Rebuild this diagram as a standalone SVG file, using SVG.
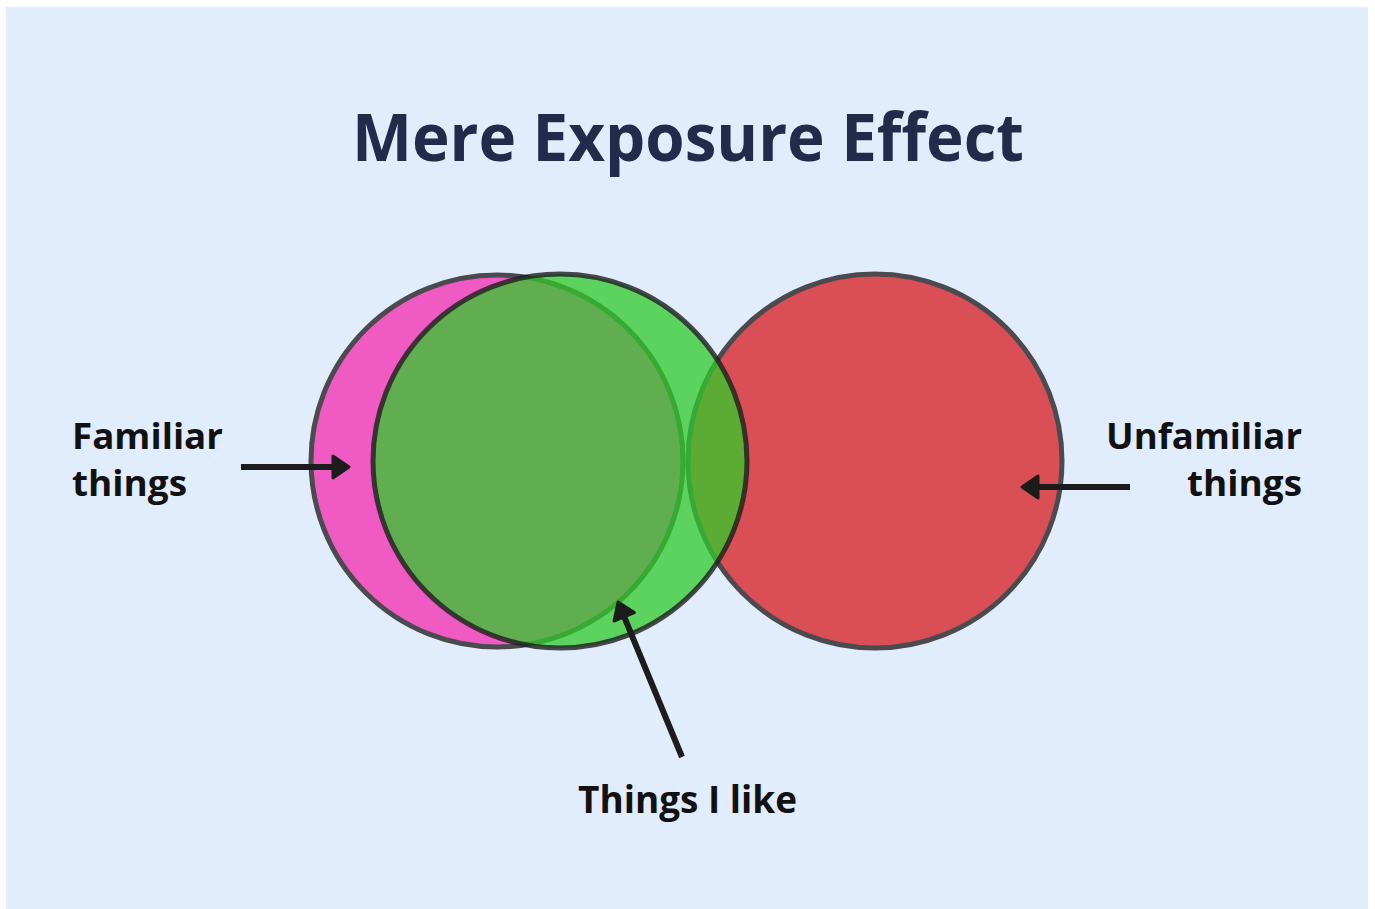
<svg xmlns="http://www.w3.org/2000/svg" width="1375" height="909" viewBox="0 0 1375 909">
  <style>
    .title { font-family: "Open Sans", "Liberation Sans", sans-serif; font-weight: 700; fill: #232b4b; }
    .label { font-family: "Open Sans", "Liberation Sans", sans-serif; font-weight: 700; fill: #111111; }
    .circ { stroke-width: 5; }
    .arrow { stroke: #1c1c1c; stroke-width: 6; fill: none; stroke-linecap: butt; }
  </style>
  <defs>
    <marker id="head" markerUnits="userSpaceOnUse" viewBox="0 0 22 28" markerWidth="22" markerHeight="28" refX="2" refY="14" orient="auto">
      <path d="M2,3 L18,14 L2,25 Z" fill="#1c1c1c" stroke="#1c1c1c" stroke-width="3" stroke-linejoin="round"/>
    </marker>
  </defs>
  <rect x="0" y="0" width="1375" height="909" fill="#ffffff"/>
  <rect x="6" y="7" width="1362" height="902" fill="#e1edfd"/>

  <text class="title" x="352" y="161" font-size="67" textLength="672" lengthAdjust="spacingAndGlyphs">Mere Exposure Effect</text>

  <g id="familiar-circle">
    <circle class="circ" cx="497" cy="461" r="186" fill="#ef5bc3" stroke="#4b4b4f"/>
  </g>
  <g id="unfamiliar-circle">
    <circle class="circ" cx="875" cy="461" r="187" fill="#d94f55" stroke="#4b4b4f"/>
  </g>
  <g id="like-circle">
    <circle class="circ" cx="560" cy="461" r="187" fill="#30ca2a" fill-opacity="0.75" stroke="#1e1e1e" stroke-opacity="0.8"/>
  </g>

  <g id="connectors">
    <line class="arrow" x1="241" y1="467" x2="333" y2="467" marker-end="url(#head)"/>
    <line class="arrow" x1="1130" y1="487" x2="1038" y2="487" marker-end="url(#head)"/>
    <line class="arrow" x1="682" y1="757" x2="624.2" y2="616.8" marker-end="url(#head)"/>
  </g>

  <g id="label-familiar">
    <text class="label" x="72" y="449" font-size="36" textLength="151" lengthAdjust="spacingAndGlyphs">Familiar</text>
    <text class="label" x="72" y="496" font-size="36" textLength="115" lengthAdjust="spacingAndGlyphs">things</text>
  </g>
  <g id="label-unfamiliar">
    <text class="label" x="1106" y="449" font-size="36" textLength="196" lengthAdjust="spacingAndGlyphs">Unfamiliar</text>
    <text class="label" x="1187" y="496" font-size="36" textLength="115" lengthAdjust="spacingAndGlyphs">things</text>
  </g>
  <g id="label-like">
    <text class="label" x="578" y="813" font-size="38" textLength="219" lengthAdjust="spacingAndGlyphs">Things I like</text>
  </g>
</svg>
